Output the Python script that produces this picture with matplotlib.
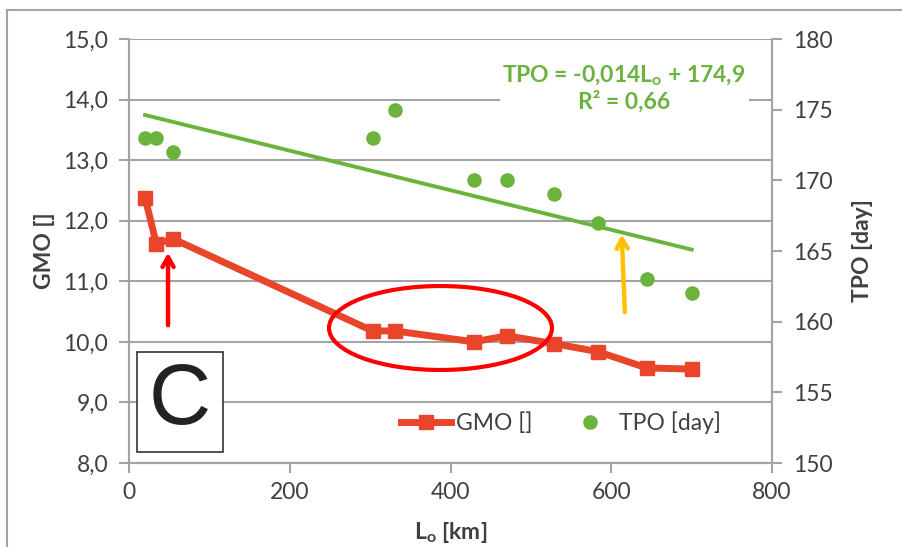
import matplotlib
matplotlib.use('Agg')
import matplotlib.pyplot as plt
from matplotlib.patches import Ellipse, Rectangle
from matplotlib.lines import Line2D

plt.rcParams['font.family'] = ['Lato', 'DejaVu Sans']
plt.rcParams['mathtext.fontset'] = 'custom'
plt.rcParams['mathtext.rm'] = 'Lato'
plt.rcParams['mathtext.bf'] = 'Lato:bold'

# data
lo_km = [20, 34, 55, 303, 331, 429, 470, 529, 583, 644, 700]
gmo = [12.38, 11.62, 11.70, 10.18, 10.18, 10.00, 10.10, 9.97, 9.84, 9.57, 9.55]
tpo = [173, 173, 172, 173, 175, 170, 170, 169, 167, 163, 162]
trend_slope = -0.014
trend_icpt = 174.9

x_ticks = [0, 200, 400, 600, 800]
gmo_ticks = [8, 9, 10, 11, 12, 13, 14, 15]
gmo_labels = ['8,0', '9,0', '10,0', '11,0', '12,0', '13,0', '14,0', '15,0']
tpo_ticks = [150, 155, 160, 165, 170, 175, 180]

red = '#e8452a'
green = '#6cb33e'
grid = '#a3a3a3'
txt = '#404040'

fig = plt.figure(figsize=(9.02, 5.47), dpi=100)
ax = fig.add_axes([129/902, 1-463/547, 643/902, 424/547])
ax2 = ax.twinx()

# outer frame of the screenshot
fig.add_artist(Line2D([7/902, 7/902], [0, 1-10/547], color=grid, lw=1.5))
fig.add_artist(Line2D([7/902, 1], [1-10/547, 1-10/547], color=grid, lw=1.5))

ax.set_xlim(0, 800)
ax.set_ylim(8, 15)
ax2.set_ylim(150, 180)
ax.set_xticks(x_ticks)
ax.set_yticks(gmo_ticks)
ax.set_yticklabels(gmo_labels)
ax2.set_yticks(tpo_ticks)

ax.grid(axis='y', color=grid, lw=1.5)
ax.set_axisbelow(True)
for a in (ax, ax2):
    for s in a.spines.values():
        s.set_color(grid)
        s.set_linewidth(1.5)
    a.spines['top'].set_visible(False)
    a.tick_params(colors=grid, labelcolor=txt, labelsize=16.5, length=7, width=1.5, pad=8)
ax.tick_params(axis='x', pad=7)

l1, = ax.plot(lo_km, gmo, color=red, lw=5, marker='s', ms=10.5, label='GMO []', zorder=4)
l2, = ax2.plot(lo_km, tpo, 'o', color=green, ms=10.5, mec='none', label='TPO [day]')
xs = [min(lo_km), max(lo_km)]
ax2.plot(xs, [trend_slope*v + trend_icpt for v in xs], color=green, lw=2.8)

ax.set_xlabel(r'L$_\mathbf{o}$ [km]', fontsize=16.5, fontweight='bold', color=txt, labelpad=12)
ax.set_ylabel('GMO []', fontsize=16.5, fontweight='bold', color=txt, labelpad=6)
ax2.set_ylabel('TPO [day]', fontsize=16.5, fontweight='bold', color=txt, labelpad=14)

ax2.text(0.77, 0.885, 'TPO = -0,014L$_\\mathbf{o}$ + 174,9\nR² = 0,66', transform=ax.transAxes,
         ha='center', va='center', fontsize=16.5, fontweight='bold', color=green,
         linespacing=1.1, bbox=dict(fc='white', ec='none', pad=2))

ax2.legend(handles=[l1, l2], loc='lower center', bbox_to_anchor=(0.672, 0.02), ncol=2,
           frameon=False, fontsize=16.5, labelcolor=txt, handlelength=2.2,
           columnspacing=1.4, handletextpad=0.2)

# "C" panel tag
ax2.add_patch(Rectangle((0.0124, 0.026), 0.134, 0.236, transform=ax.transAxes,
                        fc='white', ec='#333333', lw=1.2, zorder=5))
ax2.text(0.0794, 0.144, 'C', transform=ax.transAxes, ha='center', va='center',
         fontsize=62, family='Liberation Sans', color='#222222', zorder=6)

# hand drawn highlights
ax2.add_patch(Ellipse((0.4844, 0.3184), 0.3468, 0.198, transform=ax.transAxes,
                      fill=False, ec='#ff0000', lw=3, zorder=6))
ax2.annotate('', xy=(0.0607, 0.5024), xytext=(0.0607, 0.3184), xycoords='axes fraction',
             arrowprops=dict(arrowstyle='->,head_length=0.7,head_width=0.4', color='#ff0000', lw=3.2))
ax2.annotate('', xy=(0.766, 0.5455), xytext=(0.7714, 0.349), xycoords='axes fraction',
             arrowprops=dict(arrowstyle='->,head_length=0.7,head_width=0.4', color='#ffc000', lw=3.2))

fig.savefig('out.png', dpi=100, facecolor='white')
